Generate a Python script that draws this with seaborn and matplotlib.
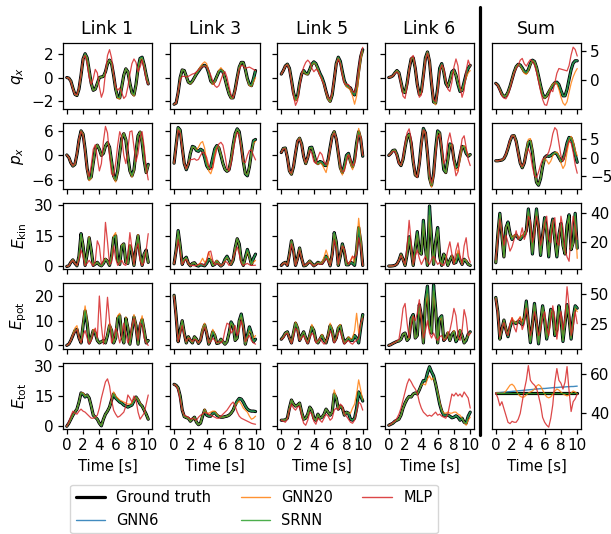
import numpy as np
import matplotlib
matplotlib.use('Agg')
import matplotlib.pyplot as plt
import seaborn as sns
from matplotlib.lines import Line2D


sns.set_theme(style='ticks', rc={'axes.edgecolor': 'black', 'axes.linewidth': 0.9,
                                 'xtick.color': 'black', 'ytick.color': 'black',
                                 'text.color': 'black', 'axes.labelcolor': 'black',
                                 'xtick.major.width': 0.9, 'ytick.major.width': 0.9,
                                 'xtick.major.size': 3.5, 'ytick.major.size': 3.5})
plt.rcParams['font.family'] = ['DejaVu Sans']

TIME = np.arange(41) * 0.25
COLUMNS = ['Link 1', 'Link 3', 'Link 5', 'Link 6', 'Sum']
ROW_LABELS = [r'$q_x$', r'$p_x$', r'$E_{\rm kin}$', r'$E_{\rm pot}$', r'$E_{\rm tot}$']

# --- q_x : Link 1, Link 3, Link 5, Link 6, Sum ---
q_truth = [
    [0.0, -0.05, -0.3, -0.9, -1.45, -1.55, -1.0, 0.2, 1.6, 2.05, 1.7, 0.6, -0.5, -1.1, -1.0, -0.5, 0.0, 0.05, 0.1, 0.5, 1.2, 1.5, 1.2, 0.2, -1.0, -1.7, -1.75, -0.8, 0.2, 0.75, 0.5, -0.5, -1.3, -1.5, -0.6, 0.8, 1.65, 1.75, 1.1, 0.2, -0.55],
    [-2.3, -2.2, -1.3, 0.0, 0.65, 0.6, 0.1, -0.4, -0.5, -0.3, 0.0, 0.3, 0.55, 0.8, 1.0, 1.05, 0.9, 0.4, -0.3, -0.5, -0.3, 0.1, 0.5, 0.65, 0.5, -0.1, -0.8, -1.4, -1.75, -1.75, -1.0, 0.0, 0.9, 1.3, 1.3, 0.7, -0.1, -0.6, -0.7, -0.1, 0.6],
    [0.3, 0.6, 1.0, 1.15, 0.8, -0.2, -1.3, -1.9, -1.6, -0.5, 0.3, 0.6, 0.35, 0.3, 0.7, 1.15, 1.35, 1.2, 0.8, 0.35, 0.0, -0.5, -1.2, -1.8, -2.05, -1.5, -0.2, 1.2, 1.75, 1.4, 0.5, -0.3, -0.65, -0.8, -0.9, -1.3, -1.5, -0.8, 0.6, 1.8, 2.4],
    [0.0, 0.05, 0.15, 0.4, 0.6, 0.4, -0.4, -1.2, -1.3, -0.5, 0.7, 1.6, 1.7, 0.8, -0.6, -1.45, -1.2, 0.2, 1.7, 2.2, 1.4, -0.5, -2.1, -2.2, -0.9, 0.8, 1.2, 0.5, -0.5, -0.8, -0.2, 0.5, 0.65, 0.2, -0.6, -1.2, -1.1, -0.4, 0.3, 0.8, 1.05],
    [-0.5, -0.8, -1.5, -2.3, -2.7, -2.6, -2.0, -1.0, 0.2, 1.4, 2.3, 2.7, 2.6, 2.1, 1.5, 1.3, 1.8, 2.8, 3.4, 3.2, 2.2, 0.7, -0.9, -2.3, -2.9, -2.6, -2.0, -1.4, -0.8, -0.4, -0.3, -0.7, -1.7, -2.6, -2.6, -1.5, 0.2, 1.8, 2.9, 3.3, 3.3],
]
q_gnn20 = [
    [0.0, -0.05, -0.3, -0.9, -1.45, -1.55, -1.0, 0.2, 1.6, 2.0, 1.7, 0.6, -0.5, -1.1, -1.0, -0.5, 0.0, 0.05, 0.1, 0.5, 1.2, 1.5, 1.2, 0.2, -1.0, -1.8, -1.85, -0.9, 0.2, 0.75, 0.5, -0.5, -1.35, -1.6, -0.7, 0.7, 1.55, 1.65, 1.1, 0.2, -0.5],
    [-2.3, -2.2, -1.3, 0.0, 0.65, 0.6, 0.1, -0.4, -0.55, -0.35, 0.0, 0.35, 0.65, 0.95, 1.2, 1.35, 1.2, 0.5, -0.3, -0.6, -0.4, 0.1, 0.6, 0.85, 0.6, -0.1, -0.8, -1.4, -1.8, -1.75, -1.0, 0.0, 0.9, 1.3, 1.3, 0.7, -0.2, -0.7, -0.75, -0.4, 0.0],
    [0.3, 0.6, 1.0, 1.15, 0.8, -0.2, -1.3, -2.0, -1.7, -0.5, 0.3, 0.55, 0.3, 0.25, 0.65, 1.1, 1.3, 1.15, 0.7, 0.2, -0.15, -0.6, -1.3, -1.9, -2.1, -1.5, -0.2, 1.2, 1.7, 1.3, 0.4, -0.4, -0.8, -0.9, -1.1, -1.6, -2.3, -1.6, 0.0, 1.5, 2.3],
    [0.0, 0.05, 0.15, 0.4, 0.6, 0.4, -0.4, -1.2, -1.3, -0.5, 0.7, 1.6, 1.7, 0.8, -0.6, -1.5, -1.3, 0.1, 1.6, 2.2, 1.5, -0.4, -2.1, -2.35, -1.1, 0.6, 1.1, 0.5, -0.4, -0.8, -0.3, 0.4, 0.6, 0.2, -0.5, -1.0, -1.1, -0.6, 0.0, 0.4, 0.6],
    [-0.5, -0.8, -1.5, -2.3, -2.7, -2.6, -2.0, -1.0, 0.2, 1.4, 2.3, 2.7, 2.5, 1.9, 1.2, 1.0, 1.6, 2.7, 3.3, 3.2, 2.2, 0.6, -1.0, -2.4, -3.0, -2.7, -1.9, -1.2, -0.6, -0.4, -0.6, -1.5, -2.8, -3.8, -4.2, -3.6, -2.0, -0.5, 0.6, 1.4, 2.0],
]
q_mlp = [
    [0.0, -0.05, -0.35, -1.0, -1.45, -1.5, -0.9, 0.3, 1.6, 1.9, 1.2, 0.0, -0.6, -0.1, 0.7, 0.4, -0.8, -1.7, -1.2, 0.4, 1.9, 2.4, 1.7, 0.3, -0.8, -1.1, -0.9, -1.3, -1.8, -1.6, -0.8, 0.3, 1.2, 1.6, 1.3, 0.5, 0.9, 1.5, 0.8, -0.2, -0.6],
    [-2.3, -2.2, -1.2, -0.2, 0.1, 0.1, 0.05, 0.1, 0.2, 0.3, 0.35, 0.5, 0.65, 0.8, 0.95, 1.0, 0.9, 0.6, 0.2, -0.3, -0.7, -0.85, -0.7, -0.2, 0.3, 0.5, 0.0, -0.8, -1.5, -1.75, -1.2, -0.2, 0.7, 1.05, 1.0, 0.8, 0.85, 0.9, 0.8, 0.7, 0.6],
    [0.3, 0.6, 1.0, 1.1, 0.7, -0.4, -1.6, -2.4, -2.0, -0.8, 0.3, 0.9, 1.3, 1.5, 1.3, 0.8, 0.5, 0.7, 0.6, 0.2, -0.2, -0.6, -1.2, -1.7, -1.9, -1.3, -0.1, 1.1, 1.6, 1.2, 0.2, -0.5, -0.6, -0.6, -0.9, -1.2, -1.3, -0.6, 0.8, 2.0, 2.6],
    [0.0, 0.05, 0.15, 0.35, 0.5, 0.3, -0.6, -1.6, -1.8, -0.8, 0.6, 1.7, 1.9, 1.0, -0.6, -1.7, -1.5, 0.0, 1.5, 2.1, 1.4, -0.4, -1.9, -2.1, -1.2, 0.5, 1.1, 0.8, -0.2, -1.0, -1.2, -0.4, 0.9, 1.6, 1.0, -0.8, -1.7, -1.1, 0.6, 1.5, 1.0],
    [-0.5, -0.9, -1.7, -2.6, -3.0, -3.1, -2.5, -1.4, 0.0, 1.2, 2.0, 2.5, 3.4, 3.7, 2.8, 2.4, 3.0, 3.5, 3.2, 2.6, 1.4, -0.2, -1.8, -3.2, -4.1, -4.2, -3.0, -1.6, -1.9, -0.4, 1.2, 2.0, 1.9, 1.8, 1.7, 1.6, 2.5, 4.3, 5.6, 5.2, 4.1],
]

# --- p_x ---
p_truth = [
    [0.1, -0.5, -1.8, -2.6, -2.2, 0.3, 3.8, 6.0, 5.2, 1.5, -3.2, -5.8, -5.3, -1.8, 1.6, 2.5, 1.5, 0.0, 0.5, 2.3, 3.1, 2.0, -1.5, -5.0, -6.0, -3.8, 0.5, 4.2, 5.3, 3.8, -0.3, -3.8, -5.0, -3.5, 1.0, 4.8, 5.7, 3.2, -1.2, -4.2, -2.2],
    [-1.9, 2.5, 6.8, 6.2, 2.0, -2.0, -3.5, -2.2, 0.5, 2.2, 2.0, 1.2, 1.0, 1.5, 1.2, -0.5, -2.5, -3.3, -2.8, -0.6, 1.6, 2.4, 1.8, 0.0, -2.0, -3.4, -3.9, -3.5, -1.0, 2.5, 5.3, 6.5, 5.8, 2.5, -1.5, -4.5, -5.0, -2.8, 0.8, 3.6, 3.9],
    [0.7, 1.7, 1.8, -0.5, -3.8, -4.6, -2.8, 0.5, 3.5, 4.2, 2.8, -0.3, -2.0, -0.5, 1.9, 2.0, 0.3, -1.5, -2.0, -1.5, -1.7, -2.4, -2.5, -1.0, 2.0, 4.8, 5.8, 4.0, 0.5, -3.0, -4.2, -2.5, 0.0, 0.5, -1.5, -2.8, -1.0, 3.0, 5.8, 4.0, -0.2],
    [0.0, 0.5, 1.2, 1.3, 0.2, -1.8, -2.5, -1.0, 2.0, 4.6, 5.2, 3.0, -1.5, -4.8, -5.2, -2.0, 3.0, 6.6, 5.5, 0.5, -5.5, -7.3, -4.5, 1.5, 6.0, 5.5, 1.0, -3.5, -4.2, -1.0, 2.8, 2.5, -1.0, -3.0, -2.5, 0.0, 2.2, 2.0, 0.5, -0.2, 0.2],
    [-0.9, -0.9, -0.8, -0.7, -0.3, 0.8, 2.5, 4.5, 5.9, 6.0, 4.5, 1.5, -1.5, -2.8, -1.5, 1.5, 4.2, 4.5, 1.5, -3.0, -6.8, -7.6, -5.8, -2.5, 0.0, 0.5, 0.3, 0.5, 1.0, 1.3, 1.0, 0.0, -1.0, -0.5, 1.5, 4.0, 5.5, 5.3, 3.5, 0.8, -1.3],
]
p_gnn20 = [
    [0.1, -0.5, -1.8, -2.6, -2.2, 0.3, 3.8, 6.0, 5.3, 1.5, -3.4, -6.2, -5.6, -2.0, 1.6, 2.6, 1.5, 0.0, 0.5, 2.3, 3.1, 2.0, -1.6, -5.3, -6.5, -4.2, 0.3, 4.2, 5.4, 4.0, -0.2, -3.9, -5.3, -3.8, 0.7, 4.8, 5.8, 3.5, -1.0, -4.3, -2.5],
    [-1.9, 2.5, 6.7, 6.1, 2.0, -2.0, -3.4, -2.1, 0.5, 2.1, 1.9, 1.4, 2.0, 3.0, 3.4, 1.8, -1.5, -3.8, -4.5, -3.0, 0.5, 2.3, 2.0, 0.3, -2.0, -3.4, -3.9, -3.4, -0.8, 2.5, 5.2, 6.4, 5.7, 2.4, -1.6, -4.4, -4.8, -2.9, 0.6, 3.0, 3.4],
    [0.7, 1.7, 1.8, -0.5, -3.9, -4.7, -2.8, 0.6, 3.6, 4.3, 2.8, -0.4, -2.1, -0.6, 1.8, 1.9, 0.2, -1.6, -2.2, -1.8, -2.2, -3.2, -4.2, -2.0, 1.8, 4.8, 5.9, 4.0, 0.3, -3.4, -4.8, -3.0, -0.3, 0.2, -2.0, -3.5, -1.5, 3.0, 6.6, 4.5, 0.0],
    [0.0, 0.5, 1.2, 1.3, 0.2, -1.8, -2.5, -1.0, 2.0, 4.5, 5.1, 2.9, -1.6, -4.9, -5.3, -2.2, 2.6, 6.2, 5.3, 0.3, -5.8, -7.8, -5.0, 1.0, 5.8, 5.6, 1.3, -3.2, -4.3, -1.5, 2.4, 2.6, -0.8, -3.5, -3.8, -1.0, 1.8, 2.4, 1.0, 0.0, 0.1],
    [-0.9, -0.9, -0.8, -0.7, -0.3, 0.8, 2.5, 4.5, 5.9, 6.1, 4.6, 1.5, -1.5, -2.8, -1.3, 2.0, 5.0, 5.2, 2.0, -3.0, -6.8, -7.5, -5.6, -2.5, -0.2, -0.8, -1.8, -1.0, 0.5, 1.3, 1.5, 0.5, -1.5, -3.0, -2.0, 1.5, 4.5, 5.8, 4.5, 2.0, 0.5],
]
p_mlp = [
    [0.1, -0.5, -1.8, -2.5, -2.0, 0.5, 4.0, 5.9, 4.8, 0.8, -3.5, -5.2, -2.5, 1.5, 2.6, -0.5, -3.8, -2.0, 3.5, 7.1, 5.5, 0.0, -4.5, -5.0, -2.0, 2.5, 5.8, 4.5, 0.0, -2.0, 1.5, 5.8, 6.0, 2.0, -1.5, 0.5, 4.5, 5.8, 2.0, -3.0, -6.0],
    [-1.9, 2.0, 6.2, 5.5, 1.5, -2.0, -3.3, -2.0, -1.0, -1.0, -0.8, -1.2, -1.0, 0.0, 0.8, 0.5, -0.5, -2.5, -3.5, -3.0, -0.5, 1.5, 2.8, 3.2, 2.5, 0.0, -3.0, -3.8, -2.0, 1.0, 3.8, 5.6, 5.0, 1.5, -1.5, -1.8, 0.0, 1.2, 1.3, 0.0, -1.1],
    [0.7, 1.6, 1.6, -0.7, -3.8, -4.4, -2.5, 0.8, 3.5, 4.0, 2.5, -0.3, -1.8, -0.5, 1.2, 0.5, -1.5, -2.0, -0.5, 0.8, 0.2, -1.5, -2.3, -1.2, 1.8, 4.5, 5.5, 4.2, 1.0, -2.5, -4.0, -3.8, -1.5, 0.2, -0.8, -2.5, -2.0, 1.5, 5.0, 4.5, 0.0],
    [0.0, 0.4, 1.0, 1.0, -0.2, -2.0, -2.4, -0.5, 2.8, 5.5, 6.5, 4.0, -1.0, -4.5, -5.3, -2.5, 2.5, 6.3, 5.6, 1.0, -4.5, -6.8, -5.0, 0.5, 4.5, 5.2, 2.0, -2.0, -1.0, 3.5, 5.5, 3.0, -2.0, -5.0, -4.0, 0.5, 4.0, 4.8, 2.0, -1.0, -2.5],
    [-0.9, -0.9, -0.8, -0.6, -0.2, 1.0, 2.8, 4.8, 6.0, 5.8, 4.0, 1.0, -1.5, -2.5, -1.5, 1.0, 2.5, 1.0, -2.5, -5.0, -5.5, -4.0, -2.0, -0.5, 0.0, 0.5, 1.5, 3.5, 6.5, 8.2, 7.5, 4.0, 0.5, -1.0, 0.5, 3.0, 4.5, 4.0, 1.5, -2.0, -4.3],
]

# --- E_kin ---
ekin_truth = [
    [0.0, 0.3, 2.0, 3.2, 1.5, 0.3, 5.0, 16.0, 10.0, 0.5, 6.0, 14.0, 8.0, 0.5, 1.2, 2.0, 0.8, 0.3, 1.5, 3.5, 2.5, 0.5, 5.0, 14.0, 15.0, 3.0, 1.0, 10.0, 11.0, 2.0, 1.5, 10.0, 7.0, 0.5, 9.0, 15.0, 6.0, 0.5, 6.0, 8.0, 2.0],
    [1.3, 8.0, 17.5, 10.0, 1.0, 3.5, 4.5, 1.5, 0.3, 1.5, 1.8, 0.5, 0.2, 0.8, 0.6, 0.3, 1.5, 3.5, 3.0, 0.5, 1.0, 2.5, 1.2, 0.2, 1.0, 3.5, 5.0, 3.0, 1.0, 3.0, 9.0, 13.5, 11.0, 3.0, 0.5, 4.5, 8.3, 5.0, 1.0, 4.0, 6.0],
    [0.5, 1.5, 2.0, 0.5, 6.0, 12.5, 8.0, 0.5, 4.0, 9.0, 4.0, 0.3, 0.5, 1.5, 2.6, 1.5, 0.3, 1.0, 2.0, 1.5, 1.5, 3.0, 5.0, 3.5, 0.3, 6.0, 16.5, 12.0, 0.5, 5.0, 11.0, 7.0, 0.8, 0.8, 2.0, 1.5, 0.5, 8.0, 19.0, 12.0, 0.5],
    [0.2, 0.2, 0.3, 0.5, 1.2, 3.0, 6.0, 3.5, 0.5, 6.0, 14.5, 8.0, 0.5, 9.0, 17.0, 7.0, 6.0, 22.5, 9.0, 0.5, 29.5, 14.0, 1.0, 12.0, 19.0, 5.0, 0.5, 6.0, 4.0, 0.5, 3.0, 5.0, 1.5, 2.0, 6.0, 3.0, 1.0, 3.5, 2.5, 1.0, 0.5],
    [6.0, 25.0, 40.0, 25.0, 10.0, 30.0, 34.0, 26.0, 22.0, 24.0, 25.0, 23.0, 22.0, 24.0, 25.0, 28.0, 43.0, 30.0, 12.0, 30.0, 43.0, 30.0, 11.0, 25.0, 37.0, 28.0, 10.0, 28.0, 36.0, 22.0, 10.0, 25.0, 33.0, 18.0, 12.0, 32.0, 39.0, 15.0, 20.0, 40.0, 16.0],
]
ekin_gnn20 = [
    [0.0, 0.3, 2.0, 3.3, 1.5, 0.3, 5.0, 15.5, 10.5, 0.5, 6.0, 14.5, 8.0, 0.5, 1.3, 2.0, 0.8, 0.3, 1.5, 3.8, 2.5, 0.5, 5.0, 15.0, 16.5, 3.0, 1.0, 10.5, 11.0, 2.0, 1.5, 10.5, 7.0, 0.5, 9.0, 15.5, 6.0, 0.5, 6.0, 7.5, 2.0],
    [1.3, 8.0, 17.0, 10.0, 1.0, 3.5, 4.3, 1.5, 0.3, 1.5, 1.8, 0.5, 0.5, 2.0, 4.0, 2.0, 3.0, 7.0, 4.0, 0.5, 1.5, 3.0, 1.5, 0.3, 1.0, 3.0, 4.5, 3.0, 1.0, 3.0, 9.0, 13.5, 10.5, 3.0, 0.5, 4.0, 7.5, 4.5, 1.0, 2.0, 3.0],
    [0.5, 1.5, 2.0, 0.5, 6.0, 12.5, 8.0, 0.5, 4.0, 9.0, 4.0, 0.3, 0.5, 1.5, 2.8, 1.5, 0.3, 1.0, 2.0, 1.5, 2.0, 4.5, 8.0, 5.0, 0.3, 6.0, 16.0, 12.0, 0.5, 5.0, 10.5, 7.0, 0.8, 1.0, 3.0, 5.0, 1.5, 10.0, 23.5, 14.0, 0.5],
    [0.2, 0.2, 0.3, 0.5, 1.2, 3.0, 6.0, 3.5, 0.5, 6.0, 14.0, 8.0, 0.5, 9.0, 16.0, 7.0, 6.0, 21.0, 9.0, 0.5, 25.0, 13.0, 1.0, 12.0, 18.0, 5.0, 0.5, 6.0, 4.5, 0.5, 3.0, 5.5, 1.5, 3.0, 8.0, 3.5, 1.0, 3.5, 3.0, 1.0, 0.5],
    [6.0, 25.0, 39.0, 25.0, 10.0, 30.0, 33.0, 26.0, 23.0, 25.0, 25.0, 24.0, 23.0, 25.0, 26.0, 28.0, 41.0, 30.0, 13.0, 30.0, 41.0, 29.0, 12.0, 25.0, 35.0, 27.0, 11.0, 27.0, 35.0, 22.0, 11.0, 25.0, 32.0, 18.0, 12.0, 31.0, 38.0, 15.0, 19.0, 38.0, 9.0],
]
ekin_mlp = [
    [0.0, 0.3, 2.0, 3.0, 1.5, 0.5, 3.0, 8.0, 5.0, 0.5, 1.5, 3.0, 1.5, 0.3, 2.5, 12.5, 10.0, 1.0, 3.0, 21.5, 12.0, 1.0, 2.0, 10.0, 4.0, 0.5, 2.0, 3.0, 1.0, 0.5, 6.0, 16.5, 9.0, 1.0, 8.0, 11.0, 3.0, 0.5, 2.0, 8.0, 16.0],
    [1.3, 7.0, 13.0, 7.0, 1.0, 2.5, 3.5, 1.5, 0.5, 0.5, 0.3, 0.5, 1.0, 1.5, 1.0, 0.5, 3.0, 7.0, 7.5, 3.0, 0.8, 1.5, 1.0, 0.3, 1.0, 2.5, 2.0, 0.5, 1.5, 4.0, 7.0, 9.5, 6.0, 1.5, 0.5, 1.0, 1.5, 0.8, 0.5, 0.5, 0.6],
    [0.5, 1.5, 1.8, 0.5, 5.0, 11.0, 7.0, 0.5, 3.5, 8.0, 4.0, 0.5, 0.8, 1.5, 2.0, 1.0, 0.3, 0.8, 1.5, 1.0, 1.2, 2.5, 4.0, 2.5, 0.5, 5.0, 13.0, 9.0, 1.0, 6.0, 10.0, 8.5, 3.0, 1.0, 2.5, 5.0, 4.0, 6.0, 14.0, 10.0, 0.5],
    [0.2, 0.2, 0.3, 0.5, 1.2, 3.0, 5.5, 3.0, 1.0, 10.0, 22.5, 12.0, 1.0, 5.0, 8.0, 4.0, 1.0, 3.0, 5.0, 2.5, 1.0, 3.5, 5.0, 3.0, 1.0, 2.0, 1.0, 0.5, 3.0, 8.0, 12.0, 6.0, 1.0, 8.0, 11.5, 5.0, 1.0, 10.0, 14.0, 5.0, 2.0],
    [8.0, 22.0, 36.0, 28.0, 18.0, 25.0, 20.0, 14.0, 17.0, 22.0, 28.0, 22.0, 24.0, 30.0, 22.0, 26.0, 38.0, 35.0, 20.0, 26.0, 38.0, 32.0, 18.0, 24.0, 33.0, 38.0, 22.0, 20.0, 34.0, 37.0, 20.0, 18.0, 38.0, 30.0, 15.0, 10.0, 7.0, 25.0, 38.0, 30.0, 22.0],
]

# --- E_pot ---
epot_truth = [
    [0.0, 0.5, 2.0, 4.0, 6.0, 6.5, 3.0, 1.0, 8.0, 14.0, 9.0, 1.0, 3.0, 6.0, 5.0, 2.0, 1.0, 1.5, 2.0, 1.0, 4.0, 8.0, 6.0, 1.0, 3.0, 11.0, 12.0, 4.0, 1.0, 11.0, 7.0, 0.5, 6.0, 11.5, 8.0, 0.5, 8.0, 10.5, 6.0, 1.0, 2.0],
    [20.3, 12.0, 1.5, 6.0, 10.0, 5.0, 1.0, 3.5, 2.0, 1.0, 3.5, 2.5, 0.8, 2.0, 6.0, 8.3, 5.0, 0.5, 2.5, 5.5, 4.0, 0.8, 1.0, 2.5, 1.5, 0.5, 1.5, 5.0, 9.5, 8.0, 2.0, 3.0, 10.0, 12.7, 8.0, 0.5, 4.0, 7.5, 5.0, 1.5, 2.5],
    [2.5, 3.5, 5.0, 5.5, 3.0, 1.0, 5.0, 9.0, 7.0, 2.0, 4.0, 5.5, 3.0, 1.0, 4.0, 7.5, 6.0, 2.0, 1.0, 2.5, 4.0, 2.0, 1.0, 4.0, 8.0, 6.0, 1.5, 3.0, 7.0, 8.0, 4.0, 1.0, 2.0, 3.0, 2.0, 2.0, 4.0, 3.0, 1.0, 7.0, 12.5],
    [0.0, 0.3, 0.8, 1.2, 1.6, 1.8, 2.5, 4.5, 5.0, 2.0, 3.0, 11.0, 12.5, 3.0, 4.0, 16.5, 12.0, 1.0, 18.0, 24.0, 8.0, 5.0, 24.5, 15.0, 1.0, 11.0, 12.0, 2.0, 3.0, 5.0, 2.0, 4.5, 5.5, 1.5, 3.0, 6.0, 4.0, 1.0, 2.0, 4.5, 5.5],
    [47.0, 35.0, 12.0, 20.0, 28.0, 20.0, 14.0, 22.0, 27.0, 26.0, 25.0, 27.0, 26.0, 24.0, 30.0, 44.0, 25.0, 9.0, 25.0, 42.0, 25.0, 8.0, 25.0, 40.0, 28.0, 12.0, 22.0, 37.0, 35.0, 15.0, 20.0, 40.0, 30.0, 10.0, 25.0, 41.0, 30.0, 12.0, 30.0, 40.0, 38.0],
]
epot_gnn20 = [
    [0.0, 0.5, 2.0, 4.5, 7.0, 8.0, 3.5, 1.0, 9.0, 16.0, 10.0, 1.0, 3.0, 6.5, 5.5, 2.0, 1.0, 1.5, 2.0, 1.0, 4.5, 9.0, 6.5, 1.0, 3.0, 12.0, 13.0, 4.0, 1.0, 11.5, 7.5, 0.5, 6.0, 12.5, 8.5, 0.5, 8.5, 12.0, 6.5, 1.0, 2.0],
    [20.3, 12.0, 1.5, 6.0, 10.0, 5.0, 1.0, 3.5, 2.0, 1.0, 3.5, 2.5, 0.8, 2.5, 7.0, 9.0, 5.5, 0.5, 3.0, 6.5, 4.5, 0.8, 1.0, 2.5, 1.5, 0.5, 1.5, 5.0, 9.0, 8.0, 2.0, 3.0, 10.0, 12.0, 7.5, 0.5, 3.5, 6.0, 5.0, 3.0, 4.0],
    [2.5, 3.5, 5.0, 5.5, 3.0, 1.0, 5.5, 9.5, 7.5, 2.0, 4.0, 5.5, 3.0, 1.0, 4.5, 8.5, 6.0, 2.0, 1.0, 2.5, 4.5, 2.5, 1.0, 4.5, 9.0, 6.5, 1.5, 3.0, 7.5, 8.5, 4.0, 1.0, 2.0, 3.5, 2.5, 3.0, 6.0, 13.0, 5.0, 8.0, 12.0],
    [0.0, 0.3, 0.8, 1.2, 1.6, 1.8, 2.5, 4.5, 5.0, 2.0, 3.5, 10.5, 12.0, 3.0, 4.0, 15.0, 11.0, 1.0, 16.0, 21.0, 7.0, 5.0, 22.0, 14.0, 1.0, 10.0, 11.5, 2.5, 3.0, 5.5, 2.0, 4.5, 6.0, 2.0, 3.0, 6.5, 4.0, 1.0, 2.5, 4.0, 5.0],
    [47.0, 35.0, 12.0, 20.0, 28.0, 21.0, 15.0, 23.0, 30.0, 27.0, 25.0, 28.0, 31.0, 26.0, 30.0, 42.0, 25.0, 10.0, 25.0, 41.0, 25.0, 9.0, 25.0, 39.0, 28.0, 13.0, 22.0, 36.0, 34.0, 16.0, 20.0, 39.0, 30.0, 11.0, 25.0, 40.0, 30.0, 13.0, 29.0, 38.0, 35.0],
]
epot_mlp = [
    [0.0, 0.5, 2.0, 4.0, 5.5, 6.5, 3.0, 1.0, 4.0, 6.0, 3.0, 0.5, 2.0, 5.0, 7.0, 3.0, 20.0, 8.0, 0.5, 8.0, 19.5, 10.0, 1.0, 3.0, 7.0, 5.0, 1.0, 4.0, 9.0, 5.0, 1.0, 3.0, 8.0, 11.0, 6.0, 2.0, 9.0, 8.0, 3.0, 1.0, 0.0],
    [20.0, 11.0, 1.5, 5.0, 8.0, 4.0, 1.5, 3.0, 2.5, 1.5, 2.5, 2.0, 1.0, 2.0, 5.0, 7.5, 5.0, 1.0, 1.5, 3.0, 2.0, 1.0, 1.5, 1.0, 2.0, 6.0, 9.0, 8.5, 5.0, 6.0, 8.0, 4.0, 6.0, 10.0, 7.0, 1.5, 3.0, 4.0, 2.0, 1.0, 0.5],
    [2.5, 3.0, 4.5, 5.0, 3.0, 0.8, 3.5, 7.0, 6.0, 2.0, 3.0, 4.0, 2.0, 0.8, 3.0, 5.0, 4.0, 1.0, 2.0, 3.0, 1.5, 0.5, 1.5, 3.5, 6.0, 4.0, 1.0, 2.5, 5.0, 6.0, 2.5, 0.5, 1.5, 2.0, 1.0, 0.5, 1.5, 2.0, 3.0, 9.0, 11.0],
    [0.0, 0.3, 0.8, 1.2, 1.8, 2.5, 8.0, 15.0, 17.0, 9.0, 3.0, 8.0, 12.0, 10.0, 13.0, 18.5, 11.0, 3.0, 6.0, 10.0, 5.0, 3.0, 5.0, 3.0, 2.0, 3.5, 4.0, 2.0, 2.5, 4.0, 6.0, 10.0, 15.0, 12.0, 4.0, 2.0, 6.0, 14.5, 11.0, 4.0, 5.0],
    [46.0, 33.0, 14.0, 22.0, 26.0, 18.0, 15.0, 25.0, 30.0, 22.0, 18.0, 28.0, 30.0, 20.0, 25.0, 38.0, 30.0, 15.0, 22.0, 35.0, 28.0, 15.0, 20.0, 30.0, 35.0, 22.0, 15.0, 28.0, 40.0, 30.0, 12.0, 25.0, 35.0, 20.0, 30.0, 56.0, 40.0, 15.0, 22.0, 35.0, 25.0],
]

# --- E_tot ---
etot_truth = [
    [0.0, 1.5, 3.5, 5.5, 7.0, 8.5, 12.0, 16.5, 16.0, 14.5, 15.5, 14.0, 10.0, 5.5, 4.5, 3.5, 1.5, 0.2, 3.5, 6.0, 7.5, 9.5, 13.0, 16.0, 14.0, 13.0, 12.0, 11.5, 10.5, 10.0, 9.5, 10.0, 10.5, 12.5, 14.5, 13.0, 11.0, 10.0, 8.0, 6.0, 3.5],
    [20.8, 20.3, 19.0, 15.0, 8.0, 4.8, 4.3, 4.0, 2.5, 3.5, 4.5, 2.0, 0.8, 1.5, 5.0, 8.0, 5.5, 5.0, 5.0, 6.5, 6.8, 5.5, 4.8, 4.5, 4.5, 4.8, 5.0, 5.5, 6.5, 8.0, 10.5, 12.5, 13.8, 13.5, 12.0, 10.0, 8.5, 7.8, 7.5, 7.5, 7.3],
    [3.0, 3.0, 3.2, 4.0, 9.0, 13.0, 11.0, 10.0, 10.5, 11.5, 7.0, 3.5, 4.0, 6.0, 9.5, 8.0, 4.0, 3.0, 6.0, 4.0, 4.5, 6.0, 8.5, 7.0, 5.5, 7.0, 16.0, 14.0, 8.5, 10.0, 9.0, 5.5, 7.0, 6.5, 3.5, 3.0, 4.0, 9.0, 17.0, 15.0, 12.5],
    [0.5, 1.0, 1.5, 2.5, 3.0, 3.5, 5.5, 9.0, 11.5, 13.5, 14.8, 14.5, 16.0, 16.5, 16.0, 18.0, 20.5, 22.7, 22.5, 26.5, 29.5, 27.0, 25.0, 21.0, 16.0, 11.0, 7.5, 5.5, 5.5, 5.5, 5.0, 4.2, 4.5, 5.2, 4.5, 3.0, 4.0, 2.0, 1.5, 5.0, 7.0],
    [50.5, 50.5, 50.5, 50.5, 50.5, 50.5, 50.5, 50.5, 50.5, 50.5, 50.5, 50.5, 50.5, 50.5, 50.5, 50.5, 50.5, 50.5, 50.5, 50.5, 50.5, 50.5, 50.5, 50.5, 50.5, 50.5, 50.5, 50.5, 50.5, 50.5, 50.5, 50.5, 50.5, 50.5, 50.5, 50.5, 50.5, 50.5, 50.5, 50.5, 50.5],
]
etot_gnn20 = [
    [0.0, 1.5, 3.5, 5.5, 7.0, 8.5, 12.0, 16.5, 16.5, 15.0, 15.5, 14.0, 10.0, 5.5, 4.5, 3.5, 1.5, 0.3, 3.5, 6.0, 7.5, 9.5, 13.0, 17.0, 15.0, 14.0, 13.0, 12.5, 12.0, 11.5, 11.0, 11.0, 11.5, 13.0, 14.5, 13.5, 11.5, 10.0, 8.0, 6.0, 3.5],
    [20.8, 20.3, 19.0, 15.0, 8.0, 4.8, 4.3, 4.0, 2.5, 3.5, 4.5, 2.0, 0.8, 1.5, 5.5, 8.5, 6.5, 6.5, 7.0, 7.5, 7.5, 6.0, 5.0, 4.5, 4.5, 4.8, 5.0, 5.5, 6.5, 8.0, 10.5, 11.5, 12.5, 11.0, 9.0, 8.0, 7.0, 5.0, 3.5, 4.0, 5.0],
    [3.0, 3.0, 3.2, 4.0, 9.0, 13.0, 11.0, 10.0, 10.5, 11.5, 7.0, 3.5, 4.0, 6.0, 9.5, 8.0, 4.0, 3.0, 6.0, 4.0, 4.5, 6.0, 8.5, 7.0, 5.5, 7.0, 18.0, 14.0, 8.5, 10.0, 9.0, 5.5, 7.0, 6.5, 6.5, 9.0, 11.0, 16.0, 23.0, 18.0, 13.0],
    [0.5, 1.0, 1.5, 2.5, 3.0, 3.5, 5.5, 9.0, 11.5, 13.5, 14.8, 14.5, 16.0, 16.5, 16.0, 18.0, 20.5, 21.0, 20.5, 23.5, 25.0, 23.0, 24.0, 21.0, 17.0, 12.0, 8.0, 6.5, 6.5, 7.0, 6.5, 6.5, 7.0, 7.0, 6.0, 5.5, 4.0, 2.0, 0.5, 3.0, 4.5],
    [50.5, 50.5, 50.4, 50.3, 50.5, 51.5, 53.0, 54.5, 55.0, 54.0, 52.0, 50.0, 48.8, 48.3, 48.5, 49.5, 50.5, 51.0, 51.5, 52.5, 54.0, 54.8, 54.0, 52.0, 50.0, 48.5, 48.0, 48.5, 50.0, 51.5, 52.5, 52.0, 51.0, 50.0, 49.5, 49.0, 49.5, 50.5, 51.5, 51.0, 50.0],
]
etot_mlp = [
    [0.0, 2.0, 5.0, 7.5, 6.5, 6.0, 7.5, 8.5, 7.5, 7.0, 6.0, 5.0, 4.0, 4.0, 4.5, 5.5, 9.0, 14.0, 18.0, 22.0, 23.5, 20.0, 13.0, 8.0, 6.0, 4.5, 5.0, 6.0, 7.0, 10.0, 15.5, 14.0, 12.0, 15.0, 13.0, 7.0, 3.5, 5.0, 6.5, 11.0, 15.5],
    [20.8, 20.0, 18.0, 13.0, 8.0, 5.5, 5.0, 4.5, 3.5, 4.0, 3.5, 3.0, 4.5, 5.5, 6.0, 7.0, 6.5, 6.0, 5.5, 5.0, 4.5, 4.0, 4.0, 5.0, 6.0, 7.0, 8.0, 9.5, 11.0, 12.0, 10.0, 7.0, 5.0, 4.0, 3.5, 3.0, 2.5, 2.0, 1.5, 1.2, 1.0],
    [3.0, 2.5, 2.0, 3.5, 8.0, 11.0, 9.0, 8.0, 9.5, 10.0, 5.0, 1.5, 0.5, 3.0, 7.0, 6.0, 2.5, 1.0, 4.0, 3.0, 2.0, 4.0, 6.0, 5.0, 3.0, 4.0, 8.0, 9.0, 8.0, 11.0, 10.0, 6.0, 5.0, 3.5, 2.0, 1.5, 3.0, 7.0, 12.0, 11.0, 8.0],
    [0.5, 1.0, 2.0, 2.5, 4.0, 6.0, 9.0, 13.0, 17.0, 21.0, 23.5, 22.0, 20.0, 18.5, 16.5, 12.0, 9.0, 7.0, 6.0, 5.0, 5.5, 5.0, 6.0, 7.0, 5.5, 6.0, 5.0, 4.5, 4.0, 6.0, 11.0, 16.0, 15.0, 16.5, 15.0, 16.0, 14.5, 17.0, 15.5, 14.0, 9.0],
    [50.5, 48.0, 44.0, 46.0, 42.5, 39.0, 35.5, 34.8, 36.0, 35.5, 35.5, 37.0, 40.0, 46.0, 52.0, 57.0, 64.5, 57.0, 55.5, 54.5, 53.0, 49.0, 44.5, 38.0, 35.5, 34.0, 33.0, 37.5, 44.5, 56.0, 63.0, 57.0, 55.5, 52.5, 56.0, 64.0, 51.5, 41.0, 46.0, 47.5, 50.0],
]
# GNN6 drifts away from the conserved total energy in the Sum panel
etot_gnn6_sum = [50.5, 50.6, 50.7, 50.8, 50.9, 51.0, 51.1, 51.2, 51.3, 51.4, 51.5, 51.6, 51.7, 51.8, 51.9, 52.0, 52.1, 52.2, 52.3, 52.4, 52.5, 52.6, 52.7, 52.8, 52.8, 52.9, 53.0, 53.1, 53.2, 53.3, 53.3, 53.4, 53.5, 53.5, 53.6, 53.7, 53.7, 53.8, 53.8, 53.9, 54.0]

ROWS = [(q_truth, q_gnn20, q_mlp), (p_truth, p_gnn20, p_mlp),
        (ekin_truth, ekin_gnn20, ekin_mlp), (epot_truth, epot_gnn20, epot_mlp),
        (etot_truth, etot_gnn20, etot_mlp)]

LINK_YLIM = [(-2.72, 3.0), (-8.2, 8.05), (-1.3, 31.1), (-1.5, 25.4), (-1.4, 31.5)]
LINK_YTICKS = [[-2, 0, 2], [-6, 0, 6], [0, 15, 30], [0, 10, 20], [0, 15, 30]]
SUM_YLIM = [(-4.84, 6.35), (-8.6, 9.6), (1.6, 47.3), (3.6, 59.4), (32, 66)]
SUM_YTICKS = [[0, 5], [-5, 0, 5], [20, 40], [25, 50], [40, 60]]

C_GNN6, C_GNN20, C_SRNN, C_MLP = '#1f77b4', '#ff7f0e', '#2ca02c', '#d62728'

W, H = 611, 534
fig = plt.figure(figsize=(W / 100, H / 100), dpi=100)

col_left = [62.7, 170.0, 277.2, 384.7, 491.7]
row_top = [42.7, 122.5, 202.7, 282.7, 362.7]
ax_w, ax_h = 89.6, 66.4

for r, (truth, gnn20, mlp) in enumerate(ROWS):
    for c in range(5):
        ax = fig.add_axes([col_left[c] / W, 1 - (row_top[r] + ax_h) / H, ax_w / W, ax_h / H])
        gnn6 = etot_gnn6_sum if (r == 4 and c == 4) else truth[c]
        sns.lineplot(x=TIME, y=truth[c], ax=ax, color='black', linewidth=2.3, legend=False)
        sns.lineplot(x=TIME, y=gnn6, ax=ax, color=C_GNN6, linewidth=1.0, alpha=0.85, legend=False)
        sns.lineplot(x=TIME, y=gnn20[c], ax=ax, color=C_GNN20, linewidth=0.9, alpha=0.85, legend=False)
        sns.lineplot(x=TIME, y=truth[c], ax=ax, color=C_SRNN, linewidth=0.9, alpha=0.85, legend=False)
        sns.lineplot(x=TIME, y=mlp[c], ax=ax, color=C_MLP, linewidth=0.9, alpha=0.85, legend=False)

        ax.set_xlim(-0.5, 10.5)
        ax.set_xticks([0, 2, 4, 6, 8, 10])
        ax.tick_params(labelsize=11, pad=3)
        if c == 4:
            ax.set_ylim(*SUM_YLIM[r])
            ax.set_yticks(SUM_YTICKS[r])
            ax.yaxis.tick_right()
        else:
            ax.set_ylim(*LINK_YLIM[r])
            ax.set_yticks(LINK_YTICKS[r])
            if c != 0:
                ax.set_yticklabels([])
        if r == 4:
            ax.set_xlabel('Time [s]', fontsize=10.5)
        else:
            ax.set_xticklabels([])
            ax.set_xlabel('')
        ax.set_ylabel(ROW_LABELS[r] if c == 0 else '', fontsize=11)
        if r == 0:
            ax.set_title(COLUMNS[c], fontsize=12.5)

# thick separator between the links and the sum column
fig.add_artist(Line2D([480.3 / W, 480.3 / W], [1 - 7 / H, 1 - 435 / H],
                      color='black', linewidth=2.3, transform=fig.transFigure))

handles = [Line2D([], [], color='black', linewidth=2.3),
           Line2D([], [], color=C_GNN6, linewidth=1.0, alpha=0.85),
           Line2D([], [], color=C_GNN20, linewidth=1.0, alpha=0.85),
           Line2D([], [], color=C_SRNN, linewidth=1.0, alpha=0.85),
           Line2D([], [], color=C_MLP, linewidth=1.0, alpha=0.85)]
labels = ['Ground truth', 'GNN6', 'GNN20', 'SRNN', 'MLP']
fig.legend(handles, labels, loc='center', bbox_to_anchor=(254 / W, 1 - 509 / H),
           ncol=3, fontsize=10.5, frameon=True)

fig.savefig('out.png', dpi=100)
